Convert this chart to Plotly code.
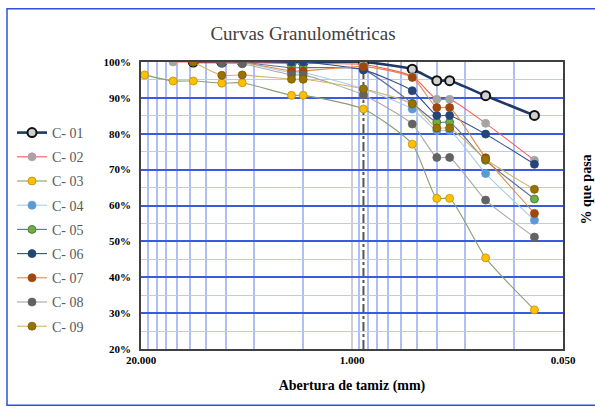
import plotly.graph_objects as go

sizes = [19.05, 12.7, 9.525, 6.35, 4.75, 2.36, 2.0, 0.85, 0.425, 0.3, 0.25, 0.15, 0.075]

names = ["C- 01", "C- 02", "C- 03", "C- 04", "C- 05", "C- 06", "C- 07", "C- 08", "C- 09"]

c01 = [None, None, 100, 100, 100, 100, 100, 100, 98.0, 94.8, 94.8, 90.6, 85.1]
c02 = [None, 100, 100, 100, 100, 99.6, 99.6, 99.3, 96.0, 89.6, 89.6, 82.9, 72.6]
c03 = [96.4, 94.7, 94.7, 94.1, 94.2, 90.7, 90.7, 86.9, 77.1, 62.0, 62.0, 45.4, 30.9]
c04 = [None, None, None, None, 100, 97.0, 97.0, 92.5, 86.9, 80.9, 80.9, 68.9, 55.9]
c05 = [None, None, None, None, 100, 98.4, 98.4, 97.8, 88.5, 83.2, 83.2, 72.6, 61.8]
c06 = [None, None, None, None, 100, 100, 100, 97.8, 92.0, 85.1, 85.1, 79.9, 71.5]
c07 = [None, None, None, None, 100, 97.5, 97.5, 98.7, 95.7, 87.3, 87.3, 73.3, 57.8]
c08 = [None, None, None, 99.7, 99.5, 96.4, 96.4, 90.8, 82.7, 73.4, 73.4, 61.5, 51.2]
c09 = [None, None, 100, 96.3, 96.4, 95.2, 95.2, 92.5, 88.3, 81.6, 81.6, 72.9, 64.5]

series = [c01, c02, c03, c04, c05, c06, c07, c08, c09]

line_colors = ["#1F3864", "#FF5B5B", "#8A9E74", "#A9CBEA", "#5C6F9C", "#2F4F8F", "#E08A4A", "#A8A8A8", "#D6B46A"]
marker_colors = ["#D0D0D0", "#A5A5A5", "#FFC000", "#5B9BD5", "#70AD47", "#264478", "#9E480E", "#636363", "#997300"]
marker_edges = ["#111111", "#A5A5A5", "#C09000", "#5B9BD5", "#3E6E2A", "#264478", "#9E480E", "#636363", "#7A5C00"]

x_labels = ["20.000", "1.000", "0.050"]
x_label_vals = [20, 1, 0.05]
x_minor = [18, 16, 14, 12, 10, 8, 6, 4, 2, 0.9, 0.8, 0.7, 0.6, 0.5, 0.4, 0.3, 0.2, 0.1]

FONT = "'Liberation Serif', 'Times New Roman', Times, serif"

fig = go.Figure()
for i, (nm, ys) in enumerate(zip(names, series)):
    xs = [s for s, v in zip(sizes, ys) if v is not None]
    yv = [v for v in ys if v is not None]
    fig.add_trace(go.Scatter(
        x=xs, y=yv, name=nm, mode="lines+markers",
        legendgroup=nm,
        line=dict(color=line_colors[i], width=2.6 if i == 0 else 1.1, shape="spline", smoothing=0.6),
        marker=dict(size=9 if i == 0 else 8, color=marker_colors[i],
                    line=dict(color=marker_edges[i], width=2 if i == 0 else 0.8)),
    ))

# vertical dash-dot reference line
fig.add_shape(type="line", xref="x", yref="y", x0=0.85, x1=0.85, y0=20, y1=100,
              line=dict(color="#555555", width=2, dash="dashdot"), layer="below")

# outer chart border
fig.add_shape(type="rect", xref="paper", yref="paper", x0=(7-141)/422, x1=(610-141)/422,
              y0=(349-405)/286, y1=(349-10)/286, line=dict(color="#3050E0", width=1.5), layer="below")

fig.add_annotation(text="% que pasa", xref="paper", yref="paper", x=(586-141)/422, y=(349-190)/286,
                   xanchor="center", yanchor="middle",
                   textangle=-90, showarrow=False, font=dict(family=FONT, size=14, color="#000", weight="bold"))

fig.update_layout(
    width=595, height=408,
    margin=dict(l=141, r=32, t=62, b=59),
    paper_bgcolor="white", plot_bgcolor="white",
    title=dict(text="Curvas Granulométricas", x=303/595, xref="container", xanchor="center",
               y=1-33/408, yref="container", yanchor="middle",
               font=dict(family=FONT, size=19, color="#404040")),
    legend=dict(xref="container", yref="container", x=12/595, y=1-117/408, xanchor="left", yanchor="top",
                font=dict(family=FONT, size=14, color="#595959"), tracegroupgap=3,
                bgcolor="rgba(0,0,0,0)", itemwidth=30, maxheight=1.0),
    showlegend=True,
)
fig.update_xaxes(
    type="log", range=[1.30103, -1.30103],
    tickmode="array", tickvals=x_label_vals, ticktext=x_labels,
    showgrid=True, gridcolor="#CFCFCF", gridwidth=1.5,
    minor=dict(tickmode="array", tickvals=x_minor, showgrid=True, gridcolor="#AFBEF3", gridwidth=1.5, ticks=""),
    showline=True, linecolor="#404040", linewidth=1.5, mirror=True,
    ticks="", tickfont=dict(family=FONT, size=11, color="#000", weight="bold"),
    title=dict(text="Abertura de tamiz (mm)", font=dict(family=FONT, size=14, color="#000", weight="bold"), standoff=15),
    zeroline=False,
)
fig.update_yaxes(
    range=[20, 100], dtick=10, ticksuffix="%",
    showgrid=True, gridcolor="#3A5BE0", gridwidth=1.5,
    minor=dict(dtick=5, showgrid=True, gridcolor="#BCCAEE", gridwidth=1.2, ticks=""),
    showline=True, linecolor="#404040", linewidth=1.5, mirror=True,
    ticks="", ticklabelstandoff=6, tickfont=dict(family=FONT, size=11, color="#000", weight="bold"),
    zeroline=False,
)
fig.write_html("out.html")
